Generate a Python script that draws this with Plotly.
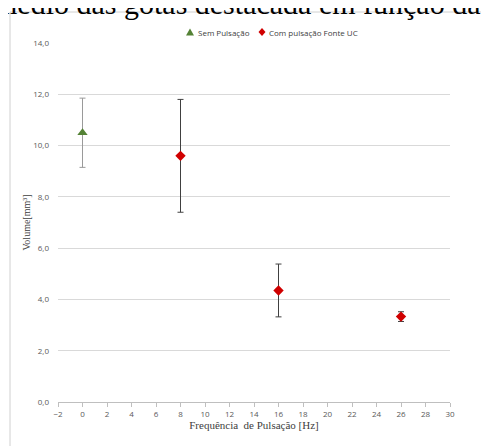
import plotly.graph_objects as go

# Data
freq_sem = [0]
vol_sem = [10.5]
err_sem = [1.35]

freq_com = [8, 16, 26]
vol_com = [9.6, 4.35, 3.33]
err_com = [2.2, 1.03, 0.19]

y_ticks = [0, 2, 4, 6, 8, 10, 12, 14]
y_ticktext = ["0,0", "2,0", "4,0", "6,0", "8,0", "10,0", "12,0", "14,0"]
x_ticks = list(range(-2, 31, 2))

# page body has an 8px margin
OFF = 8
W, H = 489 - OFF, 446 - OFF
L, T = 58 - OFF, 43 - OFF
R = W - (450 - OFF)
B = H - (402 - OFF)
pw, ph = W - L - R, H - T - B

def fx(xr):
    return (xr - OFF - L) / pw

def fy(yr):
    return (H - B - (yr - OFF)) / ph

fig = go.Figure()
fig.add_trace(go.Scatter(
    x=freq_sem, y=vol_sem, mode="markers", name="Sem Pulsação",
    marker=dict(symbol="triangle-up", size=9, color="#548235"),
    error_y=dict(type="data", array=err_sem, visible=True, color="#9a9a9a", thickness=1, width=3),
))
fig.add_trace(go.Scatter(
    x=freq_com, y=vol_com, mode="markers", name="Com pulsação Fonte UC",
    marker=dict(symbol="diamond", size=8, color="#d00000"),
    error_y=dict(type="data", array=err_com, visible=True, color="#404040", thickness=1, width=3),
))

fig.update_layout(
    width=W, height=H,
    margin=dict(l=L, r=R, t=T, b=B),
    paper_bgcolor="white", plot_bgcolor="white",
    showlegend=False,
    xaxis=dict(range=[-2, 30], tickvals=x_ticks, showgrid=False, zeroline=False,
               showline=True, linecolor="#bfbfbf", linewidth=1,
               ticks="outside", ticklen=4, tickcolor="#bfbfbf",
               tickfont=dict(family="Open Sans", size=8, color="#595959"),
               title=dict(text="Frequência  de Pulsação [Hz]", standoff=0,
                          font=dict(family="Liberation Serif", size=11, color="#404040"))),
    yaxis=dict(range=[0, 14], tickvals=y_ticks, ticktext=y_ticktext,
               showgrid=True, gridcolor="#d9d9d9", gridwidth=1, zeroline=False,
               showline=False, ticks="", ticklabelstandoff=8,
               tickfont=dict(family="Open Sans", size=8, color="#595959"),
               title=dict(text="Volume[mm³]", standoff=0,
                          font=dict(family="Liberation Serif", size=10, color="#404040"))),
)

# legend (drawn compactly like the original)
tri = (190, 32)
dia = (262, 32)
fig.add_shape(type="path", xref="paper", yref="paper", line=dict(width=0), fillcolor="#548235",
              path=f"M {fx(tri[0]-4)} {fy(tri[1]+3.5)} L {fx(tri[0]+4)} {fy(tri[1]+3.5)} L {fx(tri[0])} {fy(tri[1]-3.5)} Z")
fig.add_shape(type="path", xref="paper", yref="paper", line=dict(width=0), fillcolor="#d00000",
              path=f"M {fx(dia[0]-3.5)} {fy(dia[1])} L {fx(dia[0])} {fy(dia[1]-4)} L {fx(dia[0]+3.5)} {fy(dia[1])} L {fx(dia[0])} {fy(dia[1]+4)} Z")
fig.add_annotation(xref="paper", yref="paper", x=fx(196), y=fy(32), xanchor="left", yanchor="middle",
                   text="Sem Pulsação", showarrow=False,
                   font=dict(family="Open Sans", size=8, color="#404040"))
fig.add_annotation(xref="paper", yref="paper", x=fx(267), y=fy(32), xanchor="left", yanchor="middle",
                   text="Com pulsação Fonte UC", showarrow=False,
                   font=dict(family="Open Sans", size=8, color="#404040"))

# outer chart border (left and top)
fig.add_shape(type="line", xref="paper", yref="paper", x0=fx(10), x1=fx(10), y0=fy(460), y1=fy(12),
              line=dict(color="#d0d0d0", width=1))
fig.add_shape(type="line", xref="paper", yref="paper", x0=fx(10), x1=fx(500), y0=fy(12), y1=fy(12),
              line=dict(color="#d0d0d0", width=1))

# cut-off document caption above chart
fig.add_annotation(xref="paper", yref="paper", x=fx(-8), y=fy(22), xanchor="left", yanchor="bottom",
                   text="médio das gotas destacada em função da frequência", showarrow=False,
                   font=dict(family="Liberation Serif", size=30, color="black"))

fig.write_html("out.html")
